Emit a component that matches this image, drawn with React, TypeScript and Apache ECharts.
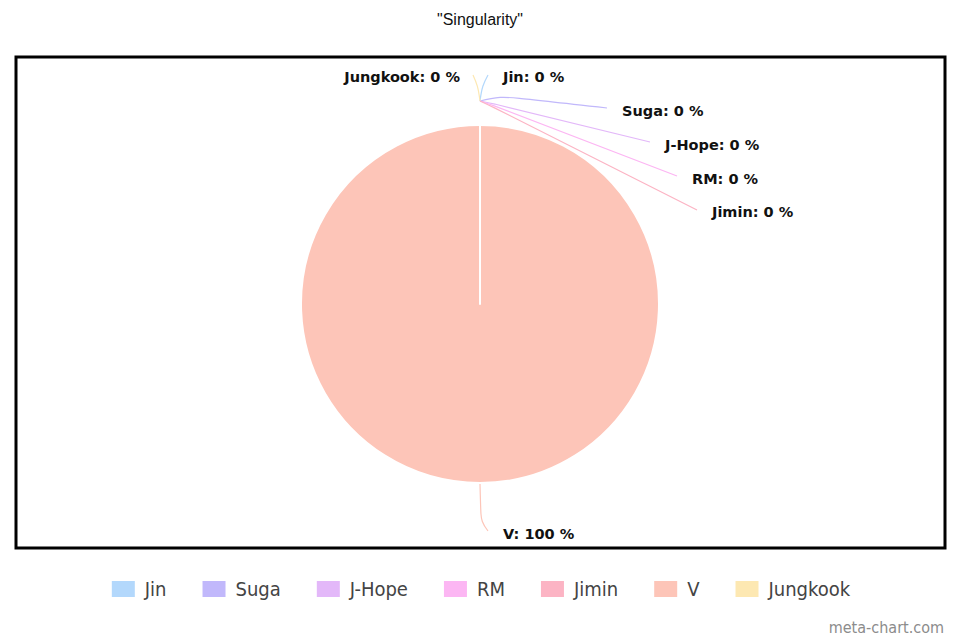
import React, { useEffect, useRef } from "react";
import * as echarts from "echarts";

const categories = ["Jin", "Suga", "J-Hope", "RM", "Jimin", "V", "Jungkook"];
const values = [0, 0, 0, 0, 0, 100, 0];
const colors = ["#b3d8fc", "#c1b8fb", "#e3b8f9", "#fcb6f3", "#fcb4c4", "#fdc5b8", "#fde8b2"];
const titleText = '"Singularity"';
const watermark = "meta-chart.com";

// label anchors (layout only)
const labelAnchor: Record<number, { x: number; y: number; align: string; line: number[][] }> = {
  0: { x: 503, y: 77, align: "left", line: [[480, 101], [482, 86], [488, 75]] },
  1: { x: 622, y: 111, align: "left", line: [[480, 101], [500, 96], [607, 108]] },
  2: { x: 665, y: 145, align: "left", line: [[480, 101], [495, 104], [650, 142]] },
  3: { x: 692, y: 179, align: "left", line: [[480, 101], [495, 106], [677, 176]] },
  4: { x: 712, y: 212, align: "left", line: [[480, 101], [495, 108], [697, 210]] },
  5: { x: 503, y: 534, align: "left", line: [[480, 484], [481, 522], [488, 531]] },
  6: { x: 460, y: 77, align: "right", line: [[480, 101], [478, 86], [473, 75]] },
};

export default function App() {
  const ref = useRef<HTMLDivElement>(null);
  useEffect(() => {
    document.body.style.margin = "0";
    const chart = echarts.init(ref.current!, null, { renderer: "svg" });
    chart.setOption({
      animation: false,
      backgroundColor: "#ffffff",
      color: colors,
      title: {
        text: titleText,
        left: "center",
        top: 6,
        textStyle: { fontFamily: "Liberation Sans", fontSize: 16, fontWeight: "normal", color: "#111" },
      },
      graphic: [
        {
          type: "rect",
          shape: { x: 16, y: 57, width: 929, height: 491 },
          style: { fill: "none", stroke: "#000", lineWidth: 3 },
          z: 10,
        },
        {
          type: "text",
          right: 16,
          bottom: 5,
          style: { text: watermark, fontFamily: "DejaVu Sans Condensed", fontSize: 16, fill: "#8c8c8c" },
        },
      ],
      legend: {
        data: categories,
        top: 574,
        left: "center",
        itemWidth: 25,
        itemHeight: 18,
        itemGap: 34,
        icon: "rect",
        textStyle: { fontFamily: "DejaVu Sans Condensed", fontSize: 20, color: "#444", padding: [0, 0, 0, 4] },
      },
      series: [
        {
          type: "pie",
          center: [480, 304],
          radius: 179,
          startAngle: 90,
          clockwise: true,
          avoidLabelOverlap: false,
          data: categories.map((c, i) => ({ name: c, value: values[i] })),
          itemStyle: { borderColor: "#fff", borderWidth: 2 },
          label: {
            show: true,
            formatter: "{b}: {d} %",
            fontFamily: "DejaVu Sans",
            fontWeight: "bold",
            fontSize: 14.5,
            color: "#111",
          },
          labelLine: { show: true, smooth: 0.4, lineStyle: { width: 1.2 } },
          labelLayout: (p: any) => {
            const a = labelAnchor[p.dataIndex];
            return {
              x: a.x,
              y: a.y,
              align: a.align,
              verticalAlign: "middle",
              labelLinePoints: a.line,
            };
          },
          emphasis: { disabled: true },
        },
      ],
    });
    return () => chart.dispose();
  }, []);
  return <div ref={ref} style={{ width: 960, height: 640, position: "absolute", left: 0, top: 0 }} />;
}
